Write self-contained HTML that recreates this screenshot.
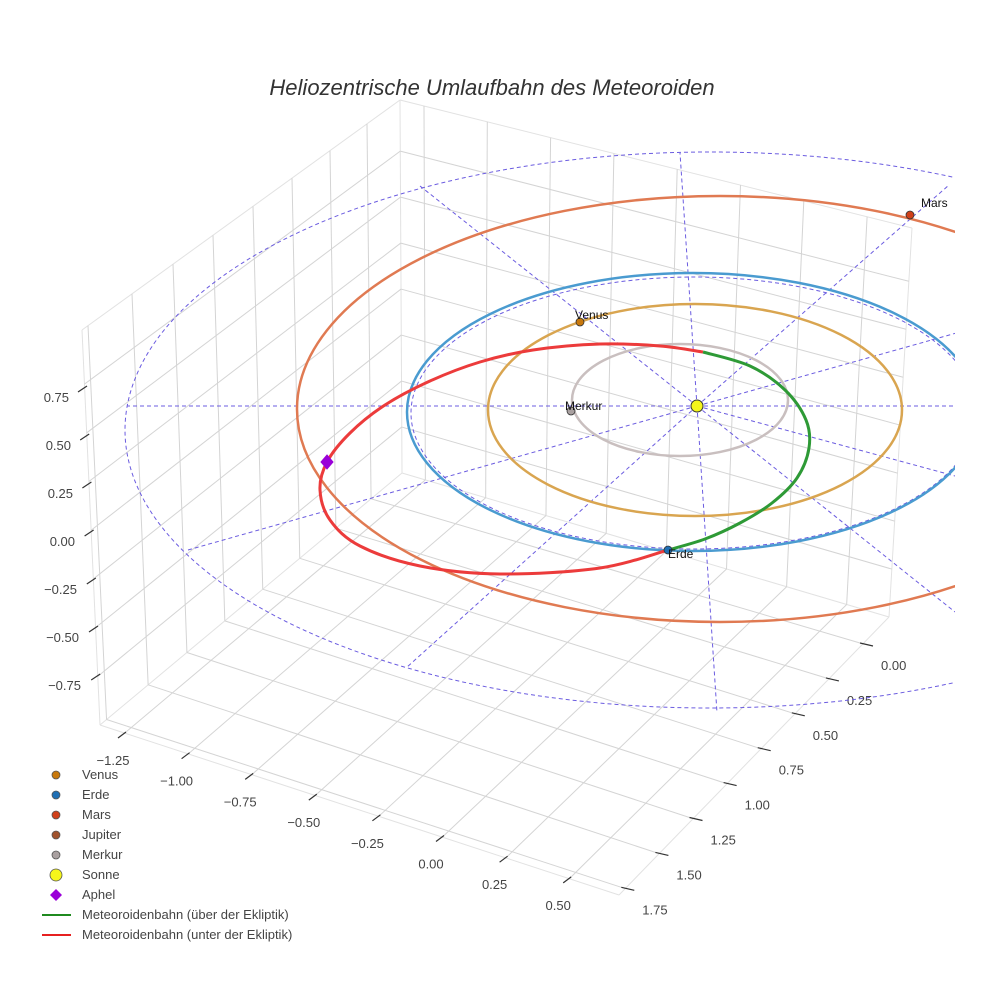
<!DOCTYPE html>
<html><head><meta charset="utf-8"><style>
html,body{margin:0;padding:0;background:#fff;}
svg{display:block;font-family:"Liberation Sans",sans-serif;}
</style></head><body>
<svg id="s" width="984" height="984" viewBox="0 0 984 984" xmlns="http://www.w3.org/2000/svg">
<defs><clipPath id="cp"><rect x="0" y="0" width="955" height="984"/></clipPath></defs>
<rect width="984" height="984" fill="#fff"/>
<g id="grid" stroke="#d4d4d4" stroke-width="1" fill="none"></g>
<g id="ticks" stroke="#333" stroke-width="1.2"></g>
<g id="labels" font-size="13" fill="#444"></g>
<text x="492" y="95" text-anchor="middle" font-size="22" font-style="italic" fill="#333">Heliozentrische Umlaufbahn des Meteoroiden</text>
<g clip-path="url(#cp)" fill="none">
  <g stroke="#6b5ce0" stroke-width="1" stroke-dasharray="4,3">
    <ellipse cx="710" cy="430" rx="585" ry="278"/>
    <line x1="697" y1="406" x2="127" y2="406"/>
    <line x1="697" y1="406" x2="960" y2="406"/>
    <line x1="697" y1="406" x2="680" y2="153"/>
    <line x1="697" y1="406" x2="717" y2="713"/>
    <line x1="697" y1="406" x2="420" y2="186"/>
    <line x1="697" y1="406" x2="188" y2="550"/>
    <line x1="697" y1="406" x2="406" y2="668"/>
    <line x1="697" y1="406" x2="949" y2="185"/>
    <line x1="697" y1="406" x2="960" y2="332"/>
    <line x1="697" y1="406" x2="955" y2="476"/>
    <line x1="697" y1="406" x2="955" y2="612"/>
    <ellipse cx="694" cy="413" rx="283" ry="136"/>
  </g>
  <ellipse cx="680" cy="400" rx="108" ry="56" stroke="#c9bfbf" stroke-width="2.5"/>
  <ellipse cx="695" cy="410" rx="207" ry="106" stroke="#d9a550" stroke-width="2.5"/>
  <ellipse cx="693" cy="412" rx="286" ry="139" stroke="#4a9bd0" stroke-width="2.5"/>
  <ellipse cx="720" cy="409" rx="423" ry="213" stroke="#e07a52" stroke-width="2.5"/>
  <path id="red" d="" stroke="#ec3b3b" stroke-width="3"/>
  <path id="green" d="" stroke="#2e9a36" stroke-width="3"/>
  <circle cx="580" cy="322" r="4" fill="#c8780c" stroke="#333" stroke-width="0.8"/>
  <circle cx="571" cy="411" r="4" fill="#a9a0a0" stroke="#333" stroke-width="0.8"/>
  <circle cx="668" cy="550" r="4" fill="#1f6fb4" stroke="#333" stroke-width="0.8"/>
  <circle cx="910" cy="215" r="4" fill="#d0401a" stroke="#333" stroke-width="0.8"/>
  <circle cx="697" cy="406" r="6" fill="#f5f51a" stroke="#333" stroke-width="1"/>
  <path d="M327,455 L333,462 L327,469 L321,462 Z" fill="#9a00d8" stroke="#9a00d8"/>
  <g font-size="12" fill="#111" stroke="none">
    <text x="575" y="319">Venus</text>
    <text x="565" y="410">Merkur</text>
    <text x="668" y="558">Erde</text>
    <text x="921" y="207">Mars</text>
  </g>
</g>
<g font-size="13" fill="#444">
  <circle cx="56" cy="775" r="4" fill="#c8780c" stroke="#555" stroke-width="0.8"/><text x="82" y="779">Venus</text>
  <circle cx="56" cy="795" r="4" fill="#1f6fb4" stroke="#555" stroke-width="0.8"/><text x="82" y="799">Erde</text>
  <circle cx="56" cy="815" r="4" fill="#d0401a" stroke="#555" stroke-width="0.8"/><text x="82" y="819">Mars</text>
  <circle cx="56" cy="835" r="4" fill="#a0522d" stroke="#555" stroke-width="0.8"/><text x="82" y="839">Jupiter</text>
  <circle cx="56" cy="855" r="4" fill="#a9a0a0" stroke="#555" stroke-width="0.8"/><text x="82" y="859">Merkur</text>
  <circle cx="56" cy="875" r="6" fill="#f5f51a" stroke="#555" stroke-width="0.8"/><text x="82" y="879">Sonne</text>
  <path d="M56,889 L62,895 L56,901 L50,895 Z" fill="#9a00d8"/><text x="82" y="899">Aphel</text>
  <line x1="42" y1="915" x2="71" y2="915" stroke="#1f8a1f" stroke-width="2"/><text x="82" y="919">Meteoroidenbahn (über der Ekliptik)</text>
  <line x1="42" y1="935" x2="71" y2="935" stroke="#e62020" stroke-width="2"/><text x="82" y="939">Meteoroidenbahn (unter der Ekliptik)</text>
</g>
</svg>
<script>
(function(){
var NS="http://www.w3.org/2000/svg";
var G=document.getElementById('grid'),T=document.getElementById('ticks'),L=document.getElementById('labels');
function ln(g,a,b,c){var e=document.createElementNS(NS,'line');e.setAttribute('x1',a[0]);e.setAttribute('y1',a[1]);e.setAttribute('x2',b[0]);e.setAttribute('y2',b[1]);if(c)e.setAttribute('stroke',c);g.appendChild(e);}
function tx(x,y,s,anc){var e=document.createElementNS(NS,'text');e.setAttribute('x',x);e.setAttribute('y',y);e.setAttribute('text-anchor',anc||'middle');e.textContent=s;L.appendChild(e);}
function lerp(a,b,f){return [a[0]+(b[0]-a[0])*f,a[1]+(b[1]-a[1])*f];}
function isect(p1,p2,p3,p4){var d=(p1[0]-p2[0])*(p3[1]-p4[1])-(p1[1]-p2[1])*(p3[0]-p4[0]);
var t=((p1[0]-p3[0])*(p3[1]-p4[1])-(p1[1]-p3[1])*(p3[0]-p4[0]))/d;return [p1[0]+t*(p2[0]-p1[0]),p1[1]+t*(p2[1]-p1[1])];}
function cr(P){var d="M"+P[0][0]+","+P[0][1];for(var i=0;i<P.length-1;i++){var p0=P[i>0?i-1:0],p1=P[i],p2=P[i+1],p3=P[i+2<P.length?i+2:i+1];
d+=" C"+(p1[0]+(p2[0]-p0[0])/6)+","+(p1[1]+(p2[1]-p0[1])/6)+" "+(p2[0]-(p3[0]-p1[0])/6)+","+(p2[1]-(p3[1]-p1[1])/6)+" "+p2[0]+","+p2[1];}return d;}
document.getElementById('red').setAttribute('d',cr([[668,550],[600,568],[500,574],[420,566],[360,546],[330,520],[320,490],[327,462],[350,433],[385,405],[430,381],[480,362],[533,350],[600,344],[660,346],[703,352]]));
document.getElementById('green').setAttribute('d',cr([[703,352],[750,366],[785,390],[806,420],[809,448],[797,478],[772,503],[740,523],[705,539],[668,550]]));
var V=[453,8072];
var tL=[400,100],tR=[912,228],D=[402,473],C=[889,617],tA=[82,330],A=[100,725],B=[619,895];
var E="#e2e2e2";
ln(G,tL,tR,E);ln(G,tR,C,E);ln(G,tA,tL,E);ln(G,tA,A,E);ln(G,tL,D,E);ln(G,A,B,E);ln(G,B,C,E);ln(G,A,D,E);ln(G,D,C,E);
var xl=['\u22121.25','\u22121.00','\u22120.75','\u22120.50','\u22120.25','0.00','0.25','0.50'];
for(var k=0;k<8;k++){var x=424+63.3*k;var top=[x,100+(x-400)*0.25];var bot=isect(top,V,D,C);ln(G,top,bot);
var fr=[126+63.6*k,732+20.7*k];ln(G,fr,bot);
ln(T,fr,[fr[0]-8,fr[1]+6]);tx(fr[0]-13,fr[1]+33,xl[k]);}
for(var j=0;j<7;j++){var f=0.137+0.1233*j;ln(G,lerp(tL,D,f),lerp(tR,C,f));ln(G,lerp(tA,A,f),lerp(tL,D,f));}
var lx=[367,330,292,253,213,173,132,88];
var yl=['0.00','0.25','0.50','0.75','1.00','1.25','1.50','1.75'];
for(var m=0;m<8;m++){var x=lx[m];var top=[x,330-0.7233*(x-82)];var bot=isect(top,V,A,D);ln(G,top,bot);
var fr=[860-34.1*m,643+34.9*m];ln(G,fr,bot);
ln(T,fr,[fr[0]+13,fr[1]+3]);tx(fr[0]+21,fr[1]+27,yl[m],'start');}
var zl=['0.75','0.50','0.25','0.00','\u22120.25','\u22120.50','\u22120.75'];
for(var j=0;j<7;j++){var ix=87+2.2*j,iy=386+48*j;ln(T,[ix,iy],[ix-9,iy+6]);tx(69+2*j,iy+16,zl[j],'end');}
})();
</script>
</body></html>
